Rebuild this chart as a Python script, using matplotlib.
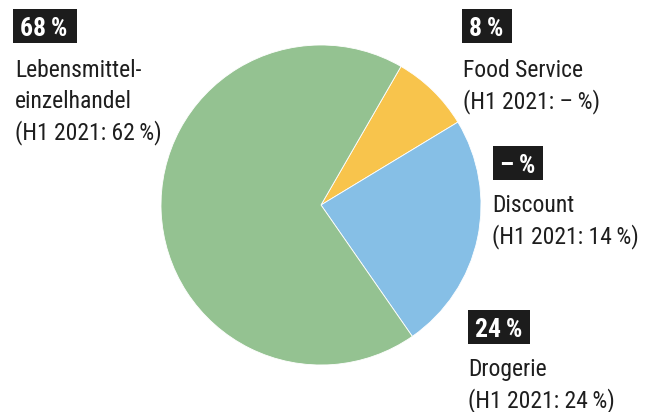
import matplotlib.pyplot as plt
from matplotlib.patches import Rectangle

# Umsatzanteile nach Vertriebskanal (Discount: 0 %)
segments = ["Food Service", "Drogerie", "Lebensmitteleinzelhandel"]
shares = [8, 24, 68]
colors = ["#f8c44c", "#86bfe6", "#94c291"]

# Kennzahl, Beschriftungszeilen
values = ["68\u2009%", "8\u2009%", "–\u2009%", "24\u2009%"]
texts = [
    ["Lebensmittel-", "einzelhandel", "(H1 2021: 62\u2009%)"],
    ["Food Service", "(H1 2021: –\u2009%)"],
    ["Discount", "(H1 2021: 14\u2009%)"],
    ["Drogerie", "(H1 2021: 24\u2009%)"],
]

# Lage der Kästchen (Pixel: links, oben, Breite) und der Textgrundlinie
boxes = [(13, 9, 64), (462, 9, 50), (493, 146, 50), (468, 310, 62)]
text_pos = [(15, 77), (463, 77), (492, 212), (468, 376)]

W, H = 651, 412
FAMILY = ["Roboto Condensed", "DejaVu Sans"]

fig = plt.figure(figsize=(W / 100, H / 100), dpi=100)

cx, cy, r = 321, 205, 160
ax = fig.add_axes([(cx - r) / W, (H - cy - r) / H, 2 * r / W, 2 * r / H])
ax.pie(shares, colors=colors, startangle=60, counterclock=False, radius=1,
       wedgeprops=dict(edgecolor="white", linewidth=0.6))
ax.set_xlim(-1, 1)
ax.set_ylim(-1, 1)
ax.set_aspect("equal")
ax.axis("off")


def px(x, y):
    return x / W, 1 - y / H


for value, (bx, by, bw) in zip(values, boxes):
    fig.patches.append(Rectangle(px(bx, by + 34), bw / W, 34 / H, transform=fig.transFigure,
                                 facecolor="#1c1c1c", edgecolor="none"))
    fig.text(*px(bx + 7, by + 27), value, color="white", fontsize=18.5, fontweight="bold",
             family=FAMILY, va="baseline", ha="left")

for lines, (tx, ty) in zip(texts, text_pos):
    for i, line in enumerate(lines):
        fig.text(*px(tx, ty + 31 * i), line, color="#1e1e1e", fontsize=17,
                 family=FAMILY, va="baseline", ha="left")

fig.savefig("out.png", dpi=100)
